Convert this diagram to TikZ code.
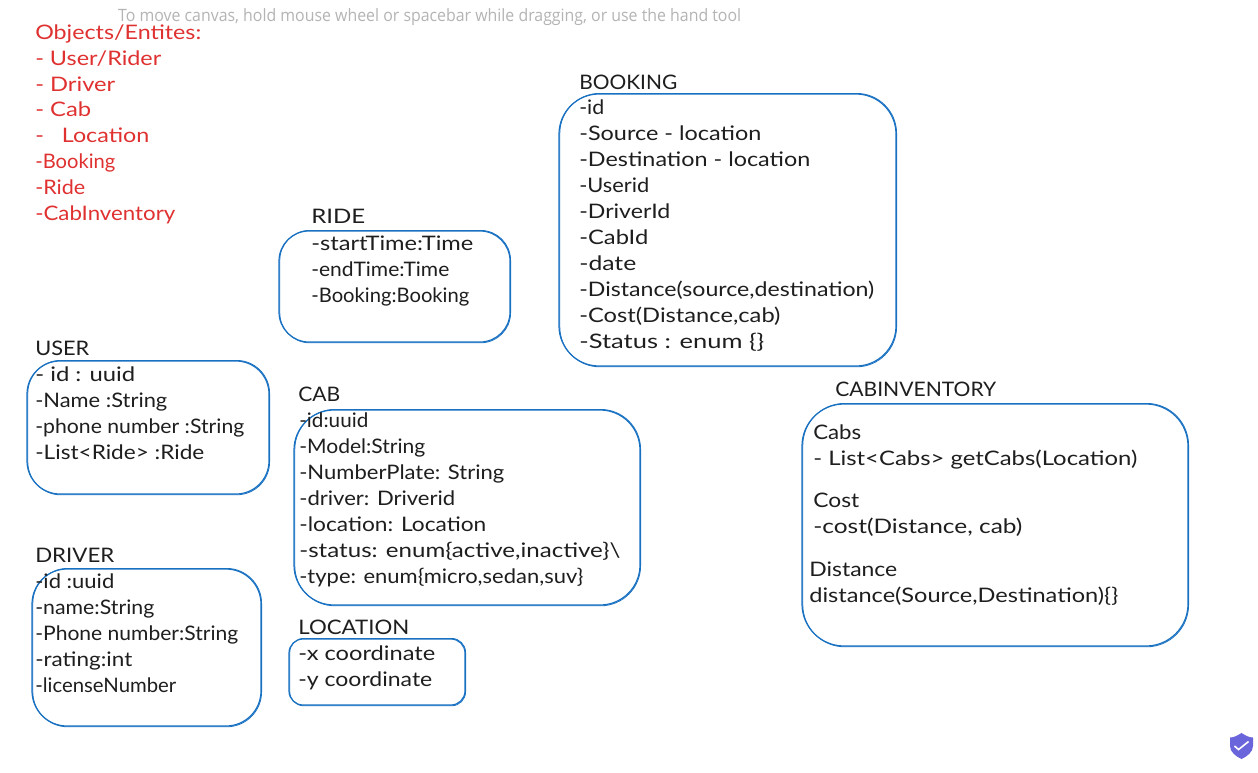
\documentclass[tikz,border=0pt]{standalone}
\usepackage{graphicx}
\usepackage{fontspec}
\setmainfont{Lato}
\newfontfamily\hintfont{Open Sans}
\definecolor{ink}{HTML}{1E1E1E}
\definecolor{redink}{HTML}{E03131}
\definecolor{blueink}{HTML}{1971C2}
\definecolor{hintgray}{HTML}{B4B4B4}
\definecolor{shieldc}{HTML}{6B65DC}
\newsavebox{\fwbox}
% set a text to a given width in px, scaling horizontally only
\newcommand{\fw}[2]{\sbox{\fwbox}{#2}\pgfmathsetmacro{\fwratio}{#1/\the\wd\fwbox}\scalebox{\fwratio}[1]{\usebox{\fwbox}}}
\newcommand{\skbox}[6]{%
  \draw[boxline,rounded corners=#6] (#2,#3) rectangle (#4,#5);
  \draw[boxline,line width=0.8,rounded corners=#6] (#2+0.8,#3-0.6) rectangle (#4+0.6,#5+0.8);
  \coordinate (#1) at (#2,#3);}
\tikzset{
  boxline/.style={draw=blueink,line width=1.2},
  inktext/.style={anchor=base west,inner sep=0,outer sep=0,xshift=-0.7pt,yshift=-0.8pt,text=ink,font=\fontsize{20}{24}\selectfont},
  redtext/.style={inktext,text=redink},
  hinttext/.style={anchor=base west,inner sep=0,text=hintgray,font=\hintfont\fontsize{17}{20}\selectfont}
}
\begin{document}
\begin{tikzpicture}[x=1pt,y=-1pt]
\useasboundingbox (0,0) rectangle (1258,772);
\fill[white] (0,0) rectangle (1258,772);
% boxes
\skbox{bookingbox}{559}{94}{896}{366}{40}
\skbox{ridebox}{279}{231}{510}{342}{30}
\skbox{userbox}{27}{361}{269}{494}{33}
\skbox{cabbox}{294}{410}{640}{605}{40}
\skbox{driverbox}{32}{569}{261}{726}{35}
\skbox{locationbox}{289}{639}{465}{705}{14}
\skbox{inventorybox}{802}{404}{1188}{646}{42}
% hint
\node[hinttext] (hint) at (118,21) {\fw{623}{To move canvas, hold mouse wheel or spacebar while dragging, or use the hand tool}};
% entity list
\node[redtext] (r0) at (36,39) {\fw{166}{Objects/Entites:}};
\node[redtext] (r1) at (36,65) {\fw{126}{- User/Rider}};
\node[redtext] (r2) at (36,91) {\fw{80}{- Driver}};
\node[redtext] (r3) at (36,116) {\fw{56}{- Cab}};
\node[redtext] (r4) at (36,142) {\fw{114}{-\ \ \ Location}};
\node[redtext] (r5) at (36,168) {\fw{80}{-Booking}};
\node[redtext] (r6) at (36,194) {\fw{50}{-Ride}};
\node[redtext] (r7) at (36,220) {\fw{140}{-CabInventory}};
% booking
\node[inktext] (b0) at (580,89) {\fw{98}{BOOKING}};
\node[inktext] (b1) at (580,114) {\fw{25}{-id}};
\node[inktext] (b2) at (580,140) {\fw{182}{-Source - location}};
\node[inktext] (b3) at (580,166) {\fw{231}{-Destination - location}};
\node[inktext] (b4) at (580,192) {\fw{70}{-Userid}};
\node[inktext] (b5) at (580,218) {\fw{91}{-DriverId}};
\node[inktext] (b6) at (580,244) {\fw{69}{-CabId}};
\node[inktext] (b7) at (580,270) {\fw{57}{-date}};
\node[inktext] (b8) at (580,296) {\fw{295}{-Distance(source,destination)}};
\node[inktext] (b9) at (580,322) {\fw{201}{-Cost(Distance,cab)}};
\node[inktext] (b10) at (580,348) {\fw{185}{-Status : enum \{\}}};
% ride
\node[inktext] (d0) at (312,223) {\fw{54}{RIDE}};
\node[inktext] (d1) at (312,250) {\fw{162}{-startTime:Time}};
\node[inktext] (d2) at (312,276) {\fw{138}{-endTime:Time}};
\node[inktext] (d3) at (312,302) {\fw{158}{-Booking:Booking}};
% user
\node[inktext] (u0) at (36,355) {\fw{54}{USER}};
\node[inktext] (u1) at (36,381) {\fw{100}{- id : uuid}};
\node[inktext] (u2) at (36,407) {\fw{132}{-Name :String}};
\node[inktext] (u3) at (36,433) {\fw{209}{-phone number :String}};
\node[inktext] (u4) at (36,459) {\fw{169}{-List<Ride> :Ride}};
% cab
\node[inktext] (c0) at (299,401) {\fw{42}{CAB}};
\node[inktext] (c1) at (300,427) {\fw{69}{-id:uuid}};
\node[inktext] (c2) at (300,453) {\fw{126}{-Model:String}};
\node[inktext] (c3) at (300,479) {\fw{205}{-NumberPlate: String}};
\node[inktext] (c4) at (300,505) {\fw{156}{-driver: Driverid}};
\node[inktext] (c5) at (300,531) {\fw{187}{-location: Location}};
\node[inktext] (c6) at (300,557) {\fw{321}{-status: enum\{active,inactive\}\textbackslash}};
\node[inktext] (c7) at (300,583) {\fw{284}{-type: enum\{micro,sedan,suv\}}};
% driver
\node[inktext] (v0) at (36,562) {\fw{79}{DRIVER}};
\node[inktext] (v1) at (36,588) {\fw{79}{-id :uuid}};
\node[inktext] (v2) at (36,614) {\fw{119}{-name:String}};
\node[inktext] (v3) at (36,640) {\fw{203}{-Phone number:String}};
\node[inktext] (v4) at (36,666) {\fw{97}{-rating:int}};
\node[inktext] (v5) at (36,692) {\fw{141}{-licenseNumber}};
% location
\node[inktext] (l0) at (299,634) {\fw{111}{LOCATION}};
\node[inktext] (l1) at (299,660) {\fw{137}{-x coordinate}};
\node[inktext] (l2) at (299,686) {\fw{134}{-y coordinate}};
% inventory
\node[inktext] (i0) at (836,396) {\fw{161}{CABINVENTORY}};
\node[inktext] (i1) at (814,439) {\fw{48}{Cabs}};
\node[inktext] (i2) at (814,465) {\fw{324}{- List<Cabs> getCabs(Location)}};
\node[inktext] (i3) at (814,507) {\fw{46}{Cost}};
\node[inktext] (i4) at (814,533) {\fw{209}{-cost(Distance, cab)}};
\node[inktext] (i5) at (810,576) {\fw{88}{Distance}};
\node[inktext] (i6) at (810,602) {\fw{309}{distance(Source,Destination)\{\}}};
% shield badge
\fill[shieldc] (1241.5,733) .. controls (1236,736.5) and (1233,737.5) .. (1230,737.5)
  -- (1230,746) .. controls (1230,752) and (1236,756.5) .. (1241.5,759)
  .. controls (1247,756.5) and (1253,752) .. (1253,746) -- (1253,737.5)
  .. controls (1250,737.5) and (1247,736.5) .. (1241.5,733) -- cycle;
\draw[white,line width=1.6] (1234.5,746) -- (1238.5,749.5) -- (1248.5,741.5);
\end{tikzpicture}
\end{document}
